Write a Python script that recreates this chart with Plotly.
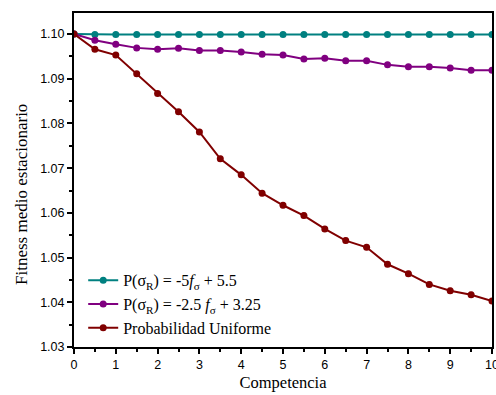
import plotly.graph_objects as go

competencia = [0, 0.5, 1, 1.5, 2, 2.5, 3, 3.5, 4, 4.5, 5, 5.5, 6, 6.5, 7, 7.5, 8, 8.5, 9, 9.5, 10]

fit_lineal_5 = [1.1000, 1.0999, 1.0999, 1.0999, 1.0999, 1.0999, 1.0999, 1.0999, 1.0999, 1.0999, 1.0999,
                1.0999, 1.0999, 1.0999, 1.0999, 1.0999, 1.0999, 1.0999, 1.0999, 1.0999, 1.0999]
err_lineal_5 = [0.0001] * 21

fit_lineal_25 = [1.1000, 1.0986, 1.0977, 1.0969, 1.0966, 1.0968, 1.0963, 1.0963, 1.0960, 1.0955, 1.0953,
                 1.0944, 1.0946, 1.0940, 1.0940, 1.0931, 1.0927, 1.0927, 1.0924, 1.0919, 1.0919]
err_lineal_25 = [0.0002] * 21

fit_uniforme = [1.1000, 1.0966, 1.0953, 1.0911, 1.0867, 1.0826, 1.0781, 1.0721, 1.0685, 1.0644, 1.0617,
                1.0594, 1.0564, 1.0538, 1.0523, 1.0485, 1.0464, 1.0440, 1.0426, 1.0417, 1.0403]
err_uniforme = [0.0002, 0.0003, 0.0003, 0.0004, 0.0004, 0.0004, 0.0005, 0.0005, 0.0005, 0.0005, 0.0005,
                0.0005, 0.0005, 0.0005, 0.0005, 0.0005, 0.0005, 0.0005, 0.0005, 0.0005, 0.0005]

nombres = [
    "P(σ<sub>R</sub>) = -5<i>f</i><sub>σ</sub> + 5.5",
    "P(σ<sub>R</sub>) = -2.5 <i>f</i><sub>σ</sub> + 3.25",
    "Probabilidad Uniforme",
]
colores = ["#008080", "#800080", "#800000"]
colores_err = ["rgba(0,128,128,0.5)", "rgba(128,0,128,0.45)", "rgba(200,60,60,0.6)"]

serif = "Liberation Serif, Times New Roman"

fig = go.Figure()
for y, e, nombre, c, ce in zip([fit_lineal_5, fit_lineal_25, fit_uniforme],
                               [err_lineal_5, err_lineal_25, err_uniforme],
                               nombres, colores, colores_err):
    fig.add_trace(go.Scatter(
        x=competencia, y=y, name=nombre, mode="lines+markers",
        line=dict(color=c, width=2),
        marker=dict(color=c, size=7),
        error_y=dict(type="data", array=e, color=ce, thickness=1.5, width=2),
    ))

axis_common = dict(
    showline=True, linecolor="black", linewidth=2, mirror=True,
    ticks="outside", tickcolor="black", tickwidth=2, ticklen=5,
    showgrid=False, zeroline=False, ticklabeloverflow="allow", automargin=False,
    tickfont=dict(family="Liberation Sans, Arial", size=12.5, color="black"),
)

fig.update_xaxes(
    range=[0, 10], dtick=1, tick0=0,
    minor=dict(dtick=0.5, ticks="outside", ticklen=3, tickwidth=2, tickcolor="black"),
    title=dict(text="Competencia", font=dict(family=serif, size=16.5, color="black"), standoff=5),
    **axis_common,
)
fig.update_yaxes(
    range=[1.03, 1.1047], dtick=0.01, tick0=1.03, tickformat=".2f",
    minor=dict(dtick=0.005, ticks="outside", ticklen=3, tickwidth=2, tickcolor="black"),
    **axis_common,
)

# Y-axis title placed as a rotated annotation
fig.add_annotation(
    text="Fitness medio estacionario", textangle=-90,
    xref="paper", yref="paper", x=-0.127, y=0.458,
    xanchor="center", yanchor="middle", showarrow=False,
    font=dict(family=serif, size=17, color="black"),
)

fig.update_layout(
    width=496, height=395,
    margin=dict(l=74, r=4, t=13, b=48, autoexpand=False),
    plot_bgcolor="white", paper_bgcolor="white",
    legend=dict(
        x=0.022, y=0.005, xanchor="left", yanchor="bottom",
        bgcolor="rgba(0,0,0,0)",
        font=dict(family=serif, size=16, color="black"),
        tracegroupgap=0, itemwidth=30,
    ),
)

fig.write_html("out.html")
